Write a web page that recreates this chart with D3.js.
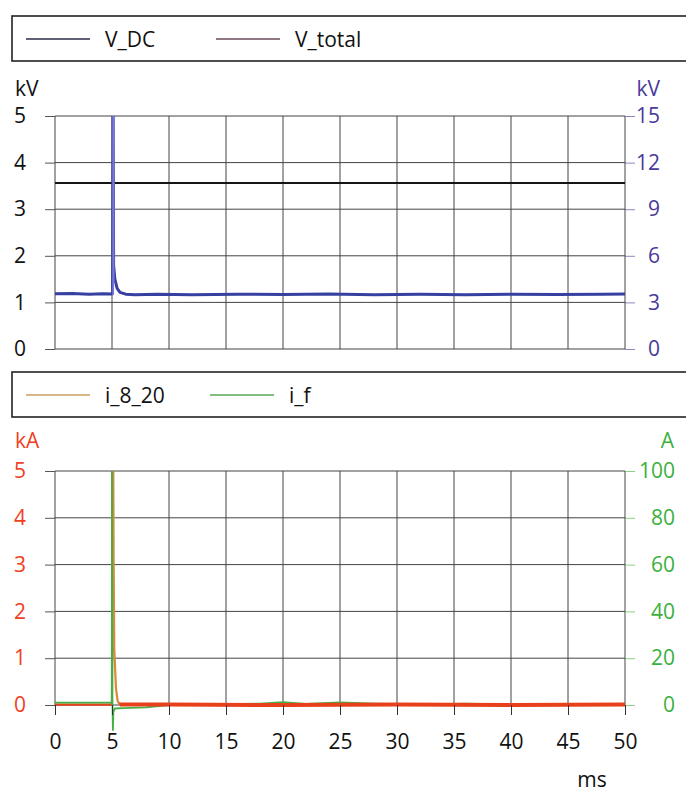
<!DOCTYPE html>
<html>
<head>
<meta charset="utf-8">
<script src="https://cdn.jsdelivr.net/npm/d3@7"></script>
<style>
  body { margin: 0; background: #fff; }
  svg, svg text { font-family: "Open Sans", "Noto Sans", sans-serif; }
  .grid line { stroke: #444; stroke-width: 1; }
  .domain { display: none; }
</style>
</head>
<body>
<svg width="686" height="793"></svg>
<script>
// time axis, ms
var timeTicks = [0, 5, 10, 15, 20, 25, 30, 35, 40, 45, 50];

// top panel: kV
var vdcT = [0, 10, 20, 30, 40, 50];
var vdcV = [3.56, 3.56, 3.56, 3.56, 3.56, 3.56];          // left axis, kV
var vtotT = [0, 1.5, 3, 4.2, 5.05, 5.1, 5.14, 5.25, 5.45, 5.7, 6.2, 7, 9, 12, 16, 20, 24, 28, 32, 36, 40, 44, 48, 50];
var vtotV = [3.55, 3.58, 3.53, 3.56, 3.54, 20, 5.4, 4.5, 3.9, 3.65, 3.53, 3.5, 3.52, 3.5, 3.53, 3.51, 3.54, 3.5, 3.52, 3.5, 3.53, 3.51, 3.52, 3.54]; // right axis, kV
var topLeftTicks = [0, 1, 2, 3, 4, 5];
var topRightTicks = [0, 3, 6, 9, 12, 15];

// bottom panel: kA / A
var i820T = [0, 5.0, 5.1, 5.14, 5.2, 5.35, 5.5, 5.7, 10, 20, 30, 40, 50];
var i820V = [0.01, 0.01, 6, 3.2, 1.2, 0.35, 0.08, 0.01, 0.01, 0.0, 0.01, 0.0, 0.01];   // kA
var ifT = [0, 3, 4.98, 5.0, 5.03, 5.08, 5.12, 5.25, 6, 8, 10, 14, 18, 20, 22, 25, 28, 32, 36, 40, 45, 50];
var ifV = [1, 1, 1, 110, 4, -10.7, -3, -1.5, -1.3, -1, 0, 0.3, 0.6, 1.2, 0.5, 1.1, 0.6, 0.2, 0.6, 0.2, 0.4, 0.5];  // A
var botLeftTicks = [0, 1, 2, 3, 4, 5];
var botRightTicks = [0, 20, 40, 60, 80, 100];

var svg = d3.select("svg");
var x = d3.scaleLinear().domain([0, 50]).range([55, 625]);

function panel(top, bottom, leftTicks, rightTicks, rightMax, leftColor, rightColor, id) {
  var yL = d3.scaleLinear().domain([0, 5]).range([bottom, top]);
  var yR = d3.scaleLinear().domain([0, rightMax]).range([bottom, top]);

  // allow traces to run a little below the frame, as the scope does
  svg.append("clipPath").attr("id", id)
    .append("rect").attr("x", 55).attr("y", top).attr("width", 570).attr("height", bottom - top + 30);

  // vertical grid
  svg.append("g").attr("class", "grid")
    .selectAll("line").data(timeTicks).enter().append("line")
    .attr("x1", d => x(d)).attr("x2", d => x(d))
    .attr("y1", top).attr("y2", bottom);
  // horizontal grid
  svg.append("g").attr("class", "grid")
    .selectAll("line").data(leftTicks).enter().append("line")
    .attr("x1", 55).attr("x2", 625)
    .attr("y1", d => yL(d)).attr("y2", d => yL(d));

  var gl = svg.append("g").attr("transform", "translate(55,0)")
    .call(d3.axisLeft(yL).tickValues(leftTicks).tickFormat(d3.format("d")).tickSize(10).tickPadding(19));
  gl.attr("font-family", null).attr("font-size", 21);
  gl.selectAll("line").attr("stroke", "#555");
  gl.selectAll("text").attr("fill", leftColor);

  var gr = svg.append("g").attr("transform", "translate(625,0)")
    .call(d3.axisRight(yR).tickValues(rightTicks).tickFormat(d3.format("d")).tickSize(10).tickPadding(12));
  gr.attr("font-family", null).attr("font-size", 21);
  gr.selectAll("line").attr("stroke", rightColor).attr("stroke-opacity", 0.6);
  gr.selectAll("text").attr("fill", rightColor)
    .attr("text-anchor", "end").attr("x", rightMax == 100 ? 50 : 35);

  return { yL: yL, yR: yR, clip: "url(#" + id + ")" };
}

function legend(y0, items) {
  svg.append("rect").attr("x", 12).attr("y", y0).attr("width", 700).attr("height", 45)
    .attr("fill", "none").attr("stroke", "#222").attr("stroke-width", 1.6);
  items.forEach(function (it) {
    svg.append("line").attr("x1", it.x).attr("x2", it.x + 64)
      .attr("y1", y0 + 23).attr("y2", y0 + 23)
      .attr("stroke", it.color).attr("stroke-width", 1.5);
    svg.append("text").attr("x", it.x + 79).attr("y", y0 + 31)
      .style("font-size", "21px").attr("fill", "#111").text(it.label);
  });
}

function series(p, ys, t, v, color, w) {
  var line = d3.line().x(d => x(d[0])).y(d => ys(d[1]));
  svg.append("path").datum(d3.zip(t, v))
    .attr("d", line).attr("fill", "none")
    .attr("stroke", color).attr("stroke-width", w)
    .attr("stroke-linejoin", "round")
    .attr("clip-path", p.clip);
}

// ---- top panel
legend(16, [
  { x: 26, label: "V_DC", color: "#2b2b4a" },
  { x: 216, label: "V_total", color: "#6b4a5a" }
]);
svg.append("text").attr("x", 15).attr("y", 96).style("font-size", "21px").attr("fill", "#111").text("kV");
svg.append("text").attr("x", 660).attr("y", 96).attr("text-anchor", "end").style("font-size", "21px").attr("fill", "#4a3a9a").text("kV");

var pTop = panel(116, 349, topLeftTicks, topRightTicks, 15, "#111", "#4a3a9a", "clipTop");
series(pTop, pTop.yL, vdcT, vdcV, "#151515", 2);

var gradV = svg.append("linearGradient").attr("id", "gradV")
  .attr("gradientUnits", "userSpaceOnUse")
  .attr("x1", x(0)).attr("x2", x(50)).attr("y1", 0).attr("y2", 0);
[[0, "#3540a0"], [5.0, "#3540a0"], [5.06, "#7a78d8"], [5.14, "#7a78d8"], [5.3, "#3540a0"], [50, "#3540a0"]]
  .forEach(function (s) { gradV.append("stop").attr("offset", s[0] / 50).attr("stop-color", s[1]); });
series(pTop, pTop.yR, vtotT, vtotV, "url(#gradV)", 3);

// ---- bottom panel
legend(372, [
  { x: 26, label: "i_8_20", color: "#c9a060" },
  { x: 210, label: "i_f", color: "#5aa85a" }
]);
svg.append("text").attr("x", 15).attr("y", 448).style("font-size", "21px").attr("fill", "#f0401e").text("kA");
svg.append("text").attr("x", 674).attr("y", 448).attr("text-anchor", "end").style("font-size", "21px").attr("fill", "#3cb03c").text("A");

var pBot = panel(471, 705, botLeftTicks, botRightTicks, 100, "#f0401e", "#3cb03c", "clipBot");

// orange spike fades into the red baseline
var grad = svg.append("linearGradient").attr("id", "gradI")
  .attr("gradientUnits", "userSpaceOnUse")
  .attr("x1", x(0)).attr("x2", x(50)).attr("y1", 0).attr("y2", 0);
[[0, "#e8401a"], [4.95, "#e8401a"], [5.05, "#d98a3a"], [5.55, "#d98a3a"], [5.75, "#e8401a"], [50, "#e8401a"]]
  .forEach(function (s) { grad.append("stop").attr("offset", s[0] / 50).attr("stop-color", s[1]); });

series(pBot, pBot.yL, i820T, i820V, "url(#gradI)", 2.2);
series(pBot, pBot.yR, ifT, ifV, "#44b044", 1.8);
// heavy red baseline of the noisy current trace on top
series(pBot, pBot.yL, i820T.slice(7), i820V.slice(7), "#e8401a", 4);

// x axis
var gx = svg.append("g").attr("transform", "translate(0,705)")
  .call(d3.axisBottom(x).tickValues(timeTicks).tickSize(10).tickPadding(19));
gx.attr("font-family", null).attr("font-size", 21);
gx.selectAll("line").attr("stroke", "#333");
gx.selectAll("text").attr("fill", "#111");

svg.append("text").attr("x", 592).attr("y", 787).attr("text-anchor", "middle")
  .style("font-size", "21px").attr("fill", "#111").text("ms");
</script>
</body>
</html>
